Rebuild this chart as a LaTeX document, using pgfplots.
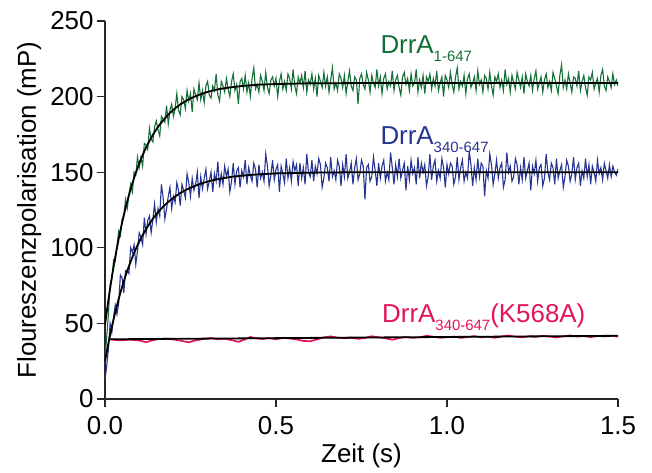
\documentclass[border=0pt]{standalone}
\usepackage{fontspec}
\setmainfont{Liberation Sans}
\usepackage{pgfplots}
\pgfplotsset{compat=1.18}
\definecolor{cgreen}{RGB}{20,112,56}
\definecolor{cblue}{RGB}{38,52,145}
\definecolor{cred}{RGB}{226,20,90}
\newcommand{\bigf}{\fontsize{26}{30}\selectfont}
\newcommand{\subf}[1]{\raisebox{-8bp}{\fontsize{15}{15}\selectfont #1}}
\begin{document}
\begin{tikzpicture}
\begin{axis}[
 scale only axis, width=513bp, height=378bp,
 xmin=0, xmax=1.5, ymin=0, ymax=250,
 axis x line=bottom, axis y line=left,
 axis line style={-, line width=1.3bp, black!85},
 tick align=outside, major tick length=8bp,
 tick style={line width=1.3bp, black!85},
 xtick={0,0.5,1,1.5}, ytick={0,50,100,150,200,250},
 x tick label style={yshift=-6bp, /pgf/number format/fixed, /pgf/number format/fixed zerofill, /pgf/number format/precision=1},
 y tick label style={/pgf/number format/fixed},
 /pgf/number format/assume math mode=true,
 tick label style={font=\bigf},
 label style={font=\bigf},
 xlabel={Zeit (s)}, ylabel={Floureszenzpolarisation (mP)},
 xlabel style={at={(axis description cs:0.5,-0.1693)}, anchor=base, inner sep=0pt},
 ylabel style={at={(axis description cs:-0.1345,0.5)}, anchor=base, inner sep=0pt},
]
% DrrA 1-647 data
\addplot[cgreen, line width=1.1bp] coordinates {
(0,27)(0.005,41)(0.01,56)(0.015,76)(0.02,79)(0.025,92)(0.03,91)(0.035,101)(0.04,111)(0.045,108)
(0.05,119)(0.055,121)(0.06,132)(0.065,126)(0.07,135)(0.075,142)(0.08,137)(0.085,150)(0.09,148)(0.095,160)
(0.1,153)(0.105,160)(0.11,154)(0.115,169)(0.12,168)(0.125,165)(0.13,179)(0.135,172)(0.14,170)(0.145,180)
(0.15,184)(0.155,178)(0.16,174)(0.165,187)(0.17,185)(0.175,183)(0.18,194)(0.185,182)(0.19,191)(0.195,195)
(0.2,187)(0.205,192)(0.21,202)(0.215,191)(0.22,188)(0.225,200)(0.23,198)(0.235,192)(0.24,204)(0.245,197)
(0.25,202)(0.255,190)(0.26,205)(0.265,201)(0.27,198)(0.275,209)(0.28,198)(0.285,204)(0.29,196)(0.295,207)
(0.3,210)(0.305,201)(0.31,199)(0.315,207)(0.32,204)(0.325,215)(0.33,201)(0.335,197)(0.34,210)(0.345,207)
(0.35,203)(0.355,212)(0.36,205)(0.365,200)(0.37,210)(0.375,215)(0.38,204)(0.385,208)(0.39,195)(0.395,210)
(0.4,212)(0.405,205)(0.41,214)(0.415,203)(0.42,209)(0.425,200)(0.43,212)(0.435,219)(0.44,205)(0.445,208)
(0.45,203)(0.455,214)(0.46,210)(0.465,204)(0.47,216)(0.475,206)(0.48,202)(0.485,211)(0.49,213)(0.495,207)
(0.5,212)(0.505,200)(0.51,210)(0.515,215)(0.52,205)(0.525,210)(0.53,204)(0.535,215)(0.54,212)(0.545,205)
(0.55,218)(0.555,207)(0.56,202)(0.565,213)(0.57,209)(0.575,214)(0.58,206)(0.585,217)(0.59,203)(0.595,211)
(0.6,208)(0.605,215)(0.61,205)(0.615,212)(0.62,200)(0.625,214)(0.63,210)(0.635,206)(0.64,216)(0.645,207)
(0.65,213)(0.655,203)(0.66,211)(0.665,219)(0.67,205)(0.675,209)(0.68,204)(0.685,215)(0.69,212)(0.695,206)
(0.7,214)(0.705,202)(0.71,210)(0.715,217)(0.72,207)(0.725,204)(0.73,213)(0.735,211)(0.74,195)(0.745,212)
(0.75,215)(0.755,208)(0.76,205)(0.765,216)(0.77,211)(0.775,203)(0.78,214)(0.785,209)(0.79,206)(0.795,218)
(0.8,207)(0.805,213)(0.81,202)(0.815,212)(0.82,215)(0.825,205)(0.83,210)(0.835,207)(0.84,217)(0.845,204)
(0.85,211)(0.855,214)(0.86,206)(0.865,201)(0.87,213)(0.875,216)(0.88,208)(0.885,212)(0.89,204)(0.895,215)
(0.9,207)(0.905,209)(0.91,218)(0.915,203)(0.92,211)(0.925,206)(0.93,214)(0.935,202)(0.94,213)(0.945,210)
(0.95,215)(0.955,205)(0.96,212)(0.965,207)(0.97,217)(0.975,204)(0.98,209)(0.985,213)(0.99,200)(0.995,214)
(1,211)(1.005,206)(1.01,216)(1.015,208)(1.02,203)(1.025,213)(1.03,219)(1.035,205)(1.04,210)(1.045,207)
(1.05,214)(1.055,202)(1.06,212)(1.065,215)(1.07,206)(1.075,209)(1.08,213)(1.085,204)(1.09,217)(1.095,208)
(1.1,211)(1.105,203)(1.11,214)(1.115,212)(1.12,205)(1.125,216)(1.13,207)(1.135,201)(1.14,213)(1.145,210)
(1.15,215)(1.155,206)(1.16,211)(1.165,204)(1.17,218)(1.175,208)(1.18,212)(1.185,203)(1.19,214)(1.195,209)
(1.2,205)(1.205,216)(1.21,211)(1.215,206)(1.22,213)(1.225,202)(1.23,215)(1.235,210)(1.24,207)(1.245,214)
(1.25,204)(1.255,212)(1.26,217)(1.265,205)(1.27,209)(1.275,213)(1.28,203)(1.285,211)(1.29,215)(1.295,206)
(1.3,210)(1.305,204)(1.31,216)(1.315,212)(1.32,207)(1.325,202)(1.33,214)(1.335,221)(1.34,206)(1.345,211)
(1.35,205)(1.355,215)(1.36,209)(1.365,203)(1.37,213)(1.375,212)(1.38,207)(1.385,217)(1.39,204)(1.395,210)
(1.4,214)(1.405,206)(1.41,201)(1.415,213)(1.42,211)(1.425,216)(1.43,205)(1.435,209)(1.44,212)(1.445,203)
(1.45,214)(1.455,218)(1.46,207)(1.465,204)(1.47,213)(1.475,210)(1.48,206)(1.485,215)(1.49,208)(1.495,211)(1.5,207)
};
% DrrA 340-647 data
\addplot[cblue, line width=1.1bp] coordinates {
(0,12)(0.005,22)(0.01,33)(0.015,50)(0.02,44)(0.025,54)(0.03,62)(0.035,56)(0.04,63)(0.045,82)
(0.05,80)(0.055,70)(0.06,85)(0.065,85)(0.07,83)(0.075,100)(0.08,97)(0.085,102)(0.09,89)(0.095,98)
(0.1,110)(0.105,107)(0.11,102)(0.115,120)(0.12,109)(0.125,118)(0.13,121)(0.135,110)(0.14,119)(0.145,129)
(0.15,117)(0.155,126)(0.16,121)(0.165,142)(0.17,133)(0.175,119)(0.18,126)(0.185,134)(0.19,140)(0.195,126)
(0.2,134)(0.205,130)(0.21,143)(0.215,138)(0.22,128)(0.225,142)(0.23,138)(0.235,133)(0.24,149)(0.245,143)
(0.25,134)(0.255,146)(0.26,138)(0.265,142)(0.27,150)(0.275,133)(0.28,147)(0.285,139)(0.29,146)(0.295,152)
(0.3,139)(0.305,144)(0.31,150)(0.315,137)(0.32,149)(0.325,144)(0.33,157)(0.335,140)(0.34,149)(0.345,142)
(0.35,154)(0.355,147)(0.36,152)(0.365,137)(0.37,144)(0.375,156)(0.38,142)(0.385,151)(0.39,153)(0.395,140)
(0.4,151)(0.405,147)(0.41,158)(0.415,142)(0.42,153)(0.425,148)(0.43,144)(0.435,156)(0.44,152)(0.445,140)
(0.45,155)(0.455,146)(0.46,150)(0.465,144)(0.47,162)(0.475,154)(0.48,141)(0.485,148)(0.49,158)(0.495,145)
(0.5,152)(0.505,155)(0.51,137)(0.515,154)(0.52,149)(0.525,143)(0.53,159)(0.535,146)(0.54,153)(0.545,144)
(0.55,157)(0.555,151)(0.56,155)(0.565,141)(0.57,156)(0.575,146)(0.58,153)(0.585,142)(0.59,162)(0.595,150)
(0.6,147)(0.605,158)(0.61,144)(0.615,154)(0.62,149)(0.625,159)(0.63,155)(0.635,140)(0.64,146)(0.645,156)
(0.65,153)(0.655,144)(0.66,160)(0.665,147)(0.67,151)(0.675,145)(0.68,158)(0.685,154)(0.69,141)(0.695,155)
(0.7,147)(0.705,162)(0.71,146)(0.715,150)(0.72,156)(0.725,142)(0.73,153)(0.735,159)(0.74,145)(0.745,149)
(0.75,158)(0.755,154)(0.76,132)(0.765,153)(0.77,155)(0.775,144)(0.78,147)(0.785,160)(0.79,151)(0.795,141)
(0.8,156)(0.805,146)(0.81,154)(0.815,158)(0.82,144)(0.825,150)(0.83,145)(0.835,163)(0.84,153)(0.845,142)
(0.85,155)(0.855,147)(0.86,159)(0.865,146)(0.87,151)(0.875,156)(0.88,138)(0.885,154)(0.89,145)(0.895,158)
(0.9,149)(0.905,153)(0.91,142)(0.915,160)(0.92,146)(0.925,156)(0.93,150)(0.935,155)(0.94,141)(0.945,147)
(0.95,162)(0.955,145)(0.96,154)(0.965,158)(0.97,144)(0.975,151)(0.98,146)(0.985,159)(0.99,153)(0.995,140)
(1,155)(1.005,149)(1.01,156)(1.015,154)(1.02,142)(1.025,147)(1.03,160)(1.035,145)(1.04,153)(1.045,158)
(1.05,144)(1.055,150)(1.06,146)(1.065,164)(1.07,155)(1.075,141)(1.08,153)(1.085,145)(1.09,159)(1.095,147)
(1.1,156)(1.105,154)(1.11,134)(1.115,151)(1.12,146)(1.125,162)(1.13,155)(1.135,142)(1.14,149)(1.145,158)
(1.15,146)(1.155,153)(1.16,156)(1.165,140)(1.17,145)(1.175,163)(1.18,150)(1.185,154)(1.19,144)(1.195,147)
(1.2,159)(1.205,155)(1.21,142)(1.215,153)(1.22,145)(1.225,160)(1.23,146)(1.235,151)(1.24,156)(1.245,138)
(1.25,154)(1.255,149)(1.26,158)(1.265,144)(1.27,153)(1.275,155)(1.28,141)(1.285,146)(1.29,162)(1.295,150)
(1.3,145)(1.305,156)(1.31,153)(1.315,142)(1.32,159)(1.325,146)(1.33,151)(1.335,155)(1.34,140)(1.345,147)
(1.35,158)(1.355,154)(1.36,144)(1.365,149)(1.37,160)(1.375,145)(1.38,153)(1.385,156)(1.39,141)(1.395,151)
(1.4,146)(1.405,159)(1.41,147)(1.415,155)(1.42,142)(1.425,154)(1.43,150)(1.435,144)(1.44,158)(1.445,149)
(1.45,153)(1.455,145)(1.46,156)(1.465,151)(1.47,146)(1.475,155)(1.48,147)(1.485,154)(1.49,150)(1.495,148)(1.5,152)
};
% DrrA 340-647 (K568A) data
\addplot[cred, line width=1.7bp] coordinates {
(0.015,39.5)(0.03,39)(0.05,38.8)(0.07,39.2)(0.09,39)(0.105,38.5)(0.12,37.5)(0.135,38.6)(0.155,39.6)(0.175,40)
(0.2,39.4)(0.22,38.6)(0.245,37.5)(0.265,38.8)(0.29,39.8)(0.31,40.3)(0.33,39.5)(0.35,39.8)(0.37,39)(0.39,37.8)
(0.41,39.5)(0.425,41)(0.44,40.2)(0.46,39.6)(0.48,40.3)(0.5,39.5)(0.52,40.5)(0.54,40)(0.56,39.4)(0.58,38.4)
(0.6,38.2)(0.62,39.4)(0.64,40.8)(0.66,41.4)(0.68,40.6)(0.7,40.2)(0.72,40.5)(0.74,39.8)(0.76,40.4)(0.78,41.5)
(0.8,40.8)(0.82,40.2)(0.84,39.2)(0.86,40.3)(0.88,41)(0.9,40.4)(0.92,40.8)(0.94,41.8)(0.96,41.2)(0.98,40.5)
(1,40.8)(1.02,41.3)(1.04,40.4)(1.06,40.9)(1.08,41.6)(1.1,40.8)(1.12,41.2)(1.14,40.5)(1.16,41.4)(1.18,42)
(1.2,41.2)(1.22,40.8)(1.24,41.5)(1.26,41.1)(1.28,41.8)(1.3,41.3)(1.32,40.7)(1.34,41.5)(1.36,42)(1.38,41.3)
(1.4,41.6)(1.42,40.9)(1.44,41.7)(1.46,41.4)(1.48,41.8)(1.5,41.3)
};
% fits
\addplot[black, line width=1.8bp] coordinates {
(0,49)(0.01,65.7)(0.02,80.6)(0.03,94.0)(0.04,106.0)(0.05,116.7)(0.06,126.3)(0.07,134.9)(0.08,142.6)(0.09,149.5)
(0.1,155.7)(0.11,161.3)(0.12,166.3)(0.13,170.7)(0.14,174.7)(0.15,178.3)(0.16,181.5)(0.17,184.3)(0.18,186.9)(0.19,189.2)
(0.2,191.3)(0.22,194.8)(0.24,197.6)(0.26,199.8)(0.28,201.6)(0.3,203.1)(0.33,204.8)(0.36,205.9)(0.4,207.0)(0.45,207.9)
(0.5,208.3)(0.6,208.8)(0.7,208.9)(0.8,209)(1.5,209)
};
\addplot[black, line width=1.8bp] coordinates {
(0,25)(0.01,36.9)(0.02,47.7)(0.03,57.4)(0.04,66.2)(0.05,74.2)(0.06,81.4)(0.07,87.9)(0.08,93.8)(0.09,99.2)
(0.1,104.0)(0.11,108.4)(0.12,112.3)(0.13,115.9)(0.14,119.2)(0.15,122.1)(0.16,124.8)(0.17,127.2)(0.18,129.3)(0.19,131.3)
(0.2,133.1)(0.22,136.2)(0.24,138.7)(0.26,140.7)(0.28,142.4)(0.3,143.8)(0.325,145.2)(0.35,146.2)(0.375,147.1)(0.4,147.7)
(0.45,148.6)(0.5,149.2)(0.6,149.7)(0.7,149.9)(0.8,150)(1.5,150)
};
\addplot[black, line width=1.8bp] coordinates {(0.015,39.5)(1.5,41.8)};
% labels
\node[anchor=base west, inner sep=0pt, text=cgreen, font=\bigf] at (axis cs:0.805,228.8) {DrrA\subf{1-647}};
\node[anchor=base west, inner sep=0pt, text=cblue, font=\bigf] at (axis cs:0.805,168) {DrrA\subf{340-647}};
\node[anchor=base west, inner sep=0pt, text=cred, font=\bigf] at (axis cs:0.81,50.3) {DrrA\subf{340-647}(K568A)};
\end{axis}
\pgfresetboundingbox
\path[use as bounding box] (current axis.south west) ++(-105bp,-74bp) rectangle ++(652bp,473bp);
\end{tikzpicture}
\end{document}
